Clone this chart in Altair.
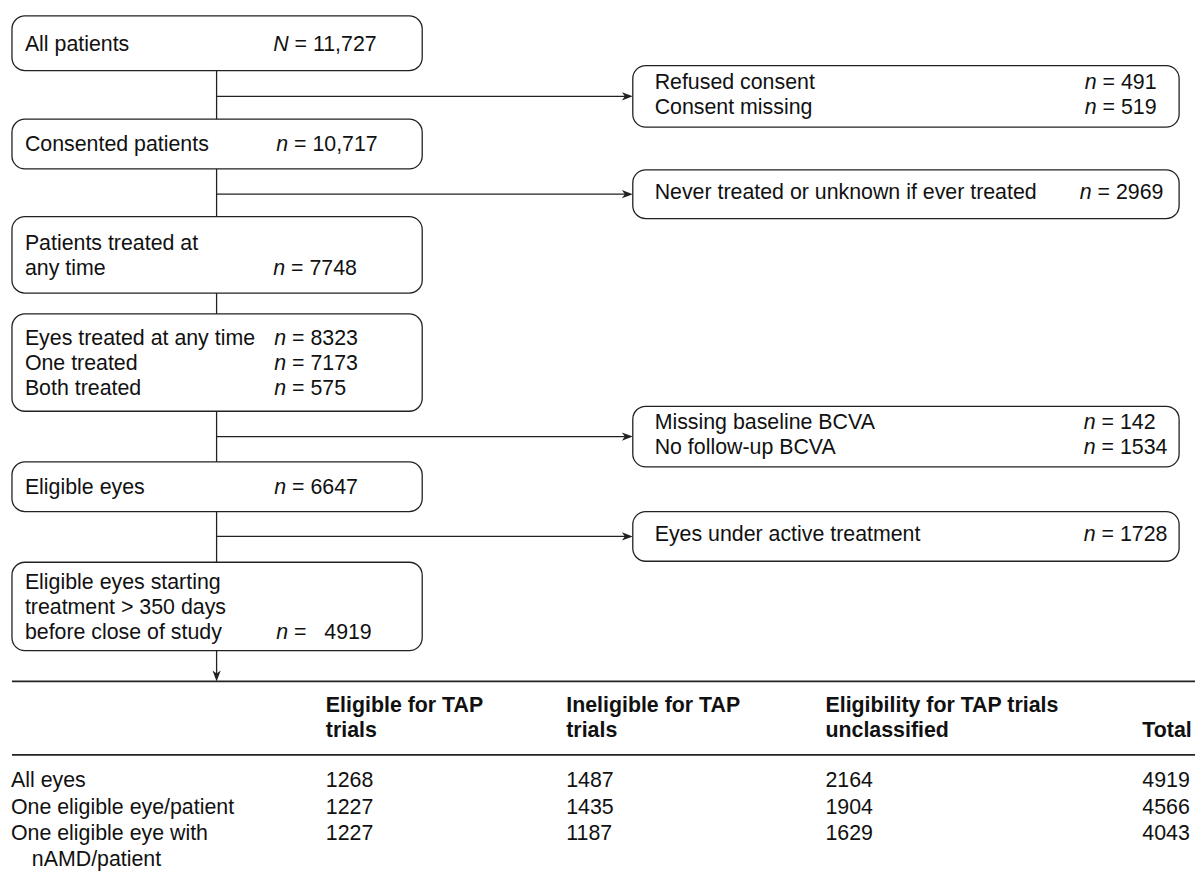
import altair as alt
import pandas as pd

# ---------------- data ----------------
step_lines = [
    ["All patients"],
    ["Consented patients"],
    ["Patients treated at", "any time"],
    ["Eyes treated at any time", "One treated", "Both treated"],
    ["Eligible eyes"],
    ["Eligible eyes starting", "treatment > 350 days", "before close of study"],
]
step_symbols = ["N", "n", "n", "n", "n", "n"]
step_counts = [
    ["11,727"],
    ["10,717"],
    [None, "7748"],
    ["8323", "7173", "575"],
    ["6647"],
    [None, None, "4919"],
]

excl_lines = [
    ["Refused consent", "Consent missing"],
    ["Never treated or unknown if ever treated"],
    ["Missing baseline BCVA", "No follow-up BCVA"],
    ["Eyes under active treatment"],
]
excl_counts = [["491", "519"], ["2969"], ["142", "1534"], ["1728"]]

table_header = [
    ["Eligible for TAP", "trials"],
    ["Ineligible for TAP", "trials"],
    ["Eligibility for TAP trials", "unclassified"],
    [None, "Total"],
]
table_rows = [["All eyes"], ["One eligible eye/patient"], ["One eligible eye with", "nAMD/patient"]]
eligible = [1268, 1227, 1227]
ineligible = [1487, 1435, 1187]
unclassified = [2164, 1904, 1629]
total = [4919, 4566, 4043]

# ---------------- layout ----------------
FONT = 21.5
LINE_H = 25
MAIN_X0, MAIN_X1 = 12, 425
main_y = [(13, 68), (117, 167), (215, 292), (313, 411), (462, 512), (563, 652)]
main_sym_x = [275, 278, 275, 276, 276, 278]
main_pad = [1, 1, 1, 1, 1, 3]
MAIN_TEXT_X = 25
TRUNK_X = 218
EX_X0, EX_X1 = 637, 1187
ex_y = [(63, 125), (168, 217), (406, 467), (512, 562)]
ex_sym_x = [1092, 1087, 1091, 1091]
EX_TEXT_X = 659
TABLE_TOP, TABLE_HEAD = 683, 757
TABLE_X0, TABLE_X1 = 12, 1203
head_y = [708, 733]
col_x = [328, 570, 831, 1150]
row_y = [783, 810, 837]
LABEL_X, INDENT_X = 11, 32
NBSP = "\u00a0"


def sym_width(s):
    return ((722 if s == "N" else 556) + 278) * FONT / 1000.0


boxes, rules, reg, ital, bold, arr_r, arr_d = [], [], [], [], [], [], []

for i, (lines, (y0, y1)) in enumerate(zip(step_lines, main_y)):
    boxes.append(dict(x0=MAIN_X0, x1=MAIN_X1, y0=y0, y1=y1))
    cy = (y0 + y1) / 2 + 1.5
    k = len(lines)
    for j, line in enumerate(lines):
        y = cy + (j - (k - 1) / 2) * LINE_H
        reg.append(dict(x=MAIN_TEXT_X, y=y, t=line))
        c = step_counts[i][j] if j < len(step_counts[i]) else None
        if c:
            sx = main_sym_x[i]
            ital.append(dict(x=sx, y=y, t=step_symbols[i]))
            reg.append(dict(x=sx + sym_width(step_symbols[i]), y=y,
                            t="=" + NBSP * main_pad[i] + c))

for i, (lines, (y0, y1)) in enumerate(zip(excl_lines, ex_y)):
    boxes.append(dict(x0=EX_X0, x1=EX_X1, y0=y0, y1=y1))
    cy = (y0 + y1) / 2 - 1
    k = len(lines)
    for j, line in enumerate(lines):
        y = cy + (j - (k - 1) / 2) * LINE_H
        reg.append(dict(x=EX_TEXT_X, y=y, t=line))
        sx = ex_sym_x[i]
        ital.append(dict(x=sx, y=y, t="n"))
        reg.append(dict(x=sx + sym_width("n"), y=y, t="=" + NBSP + excl_counts[i][j]))
    ay = (y0 + y1) / 2
    rules.append(dict(x0=TRUNK_X, x1=EX_X0 - 4, y0=ay, y1=ay, w=1.3))
    arr_r.append(dict(x=EX_X0 - 5.5, y=ay))

for i in range(len(main_y) - 1):
    rules.append(dict(x0=TRUNK_X, x1=TRUNK_X, y0=main_y[i][1], y1=main_y[i + 1][0], w=1.3))
rules.append(dict(x0=TRUNK_X, x1=TRUNK_X, y0=main_y[-1][1], y1=TABLE_TOP - 4, w=1.3))
arr_d.append(dict(x=TRUNK_X, y=TABLE_TOP - 5.5))

rules.append(dict(x0=TABLE_X0, x1=TABLE_X1, y0=TABLE_TOP, y1=TABLE_TOP, w=1.8))
rules.append(dict(x0=TABLE_X0, x1=TABLE_X1, y0=TABLE_HEAD, y1=TABLE_HEAD, w=1.8))

for c, lines in enumerate(table_header):
    for j, line in enumerate(lines):
        if line:
            bold.append(dict(x=col_x[c], y=head_y[j], t=line))

for r, lines in enumerate(table_rows):
    for j, line in enumerate(lines):
        reg.append(dict(x=LABEL_X if j == 0 else INDENT_X, y=row_y[r] + j * 26, t=line))
    for c, series in enumerate([eligible, ineligible, unclassified, total]):
        reg.append(dict(x=col_x[c], y=row_y[r], t=str(series[r])))

# ---------------- chart ----------------
W, H = 1195, 880
xs = alt.Scale(domain=[8, 8 + W], range=[0, W])
ys = alt.Scale(domain=[8, 8 + H], range=[0, H])
INK = "#222222"

box_layer = alt.Chart(pd.DataFrame(boxes)).mark_rect(
    cornerRadius=13, fill="white", stroke=INK, strokeWidth=1.3
).encode(
    x=alt.X("x0:Q", scale=xs, axis=None), x2="x1:Q",
    y=alt.Y("y0:Q", scale=ys, axis=None), y2="y1:Q",
)

rule_layer = alt.Chart(pd.DataFrame(rules)).mark_rule(color=INK).encode(
    x=alt.X("x0:Q", scale=xs, axis=None), x2="x1:Q",
    y=alt.Y("y0:Q", scale=ys, axis=None), y2="y1:Q",
    strokeWidth=alt.StrokeWidth("w:Q", scale=None, legend=None),
)

arrow_right = alt.Chart(pd.DataFrame(arr_r)).mark_point(
    shape="M1,0 L-1,-0.75 L-0.45,0 L-1,0.75 Z", filled=True, size=121,
    color=INK, opacity=1, strokeWidth=0,
).encode(x=alt.X("x:Q", scale=xs, axis=None), y=alt.Y("y:Q", scale=ys, axis=None))

arrow_down = alt.Chart(pd.DataFrame(arr_d)).mark_point(
    shape="M0,1 L-0.75,-1 L0,-0.45 L0.75,-1 Z", filled=True, size=121,
    color=INK, opacity=1, strokeWidth=0,
).encode(x=alt.X("x:Q", scale=xs, axis=None), y=alt.Y("y:Q", scale=ys, axis=None))


def text_layer(rows, **kw):
    return alt.Chart(pd.DataFrame(rows)).mark_text(
        align="left", baseline="middle", font="Liberation Sans",
        fontSize=FONT, color="#111111", **kw
    ).encode(
        x=alt.X("x:Q", scale=xs, axis=None),
        y=alt.Y("y:Q", scale=ys, axis=None),
        text="t:N",
    )


chart = alt.layer(
    box_layer, rule_layer, arrow_right, arrow_down,
    text_layer(reg), text_layer(ital, fontStyle="italic"),
    text_layer(bold, fontWeight="bold"),
).properties(
    width=W, height=H, padding=0, autosize=alt.AutoSizeParams(type="none"),
    background="white",
).configure_view(stroke=None)

chart.save("out.html", embed_options={"renderer": "svg", "actions": False})
